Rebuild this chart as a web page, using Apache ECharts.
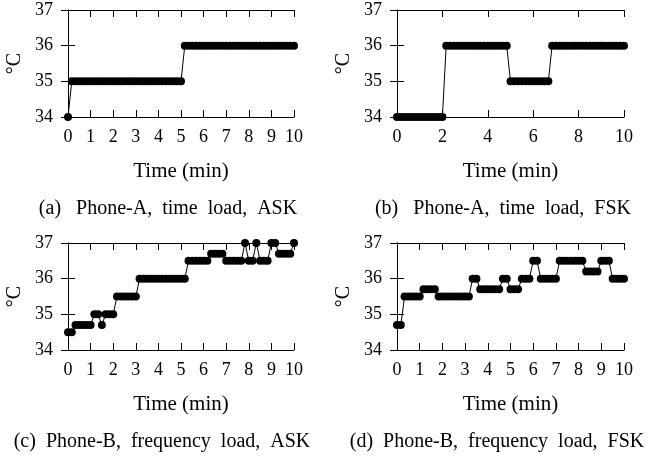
<!DOCTYPE html>
<html>
<head>
<meta charset="utf-8">
<script src="https://cdn.jsdelivr.net/npm/echarts@6/dist/echarts.min.js"></script>
<style>
html,body{margin:0;padding:0;background:#fff;}
#chart{width:662px;height:461px;}
</style>
</head>
<body>
<div id="chart"></div>
<script>
// one sample every 10 s, x axis in minutes
var sampleMin = 10 / 60;

// (a) Phone-A, time load, ASK
var tempA = [34,
  35,35,35,35,35,35,35,35,35,35,35,35,35,35,35,35,35,35,35,35,35,35,35,35,35,35,35,35,35,35,
  36,36,36,36,36,36,36,36,36,36,36,36,36,36,36,36,36,36,36,36,36,36,36,36,36,36,36,36,36,36];
// (b) Phone-A, time load, FSK
var tempB = [34,34,34,34,34,34,34,34,34,34,34,34,34,
  36,36,36,36,36,36,36,36,36,36,36,36,36,36,36,36,36,
  35,35,35,35,35,35,35,35,35,35,35,
  36,36,36,36,36,36,36,36,36,36,36,36,36,36,36,36,36,36,36,36];
// (c) Phone-B, frequency load, ASK
var tempC = [34.5,34.5,34.7,34.7,34.7,34.7,34.7,35,35,34.7,35,35,35,
  35.5,35.5,35.5,35.5,35.5,35.5,
  36,36,36,36,36,36,36,36,36,36,36,36,36,
  36.5,36.5,36.5,36.5,36.5,36.5,36.7,36.7,36.7,36.7,
  36.5,36.5,36.5,36.5,36.5,37,36.5,36.5,37,36.5,36.5,36.5,37,37,
  36.7,36.7,36.7,36.7,37];
// (d) Phone-B, frequency load, FSK
var tempD = [34.7,34.7,35.5,35.5,35.5,35.5,35.5,35.7,35.7,35.7,35.7,
  35.5,35.5,35.5,35.5,35.5,35.5,35.5,35.5,35.5,36,36,
  35.7,35.7,35.7,35.7,35.7,35.7,36,36,35.7,35.7,35.7,36,36,36,36.5,36.5,
  36,36,36,36,36,36.5,36.5,36.5,36.5,36.5,36.5,36.5,
  36.2,36.2,36.2,36.2,36.5,36.5,36.5,36,36,36,36];

var captions = ['(a)   Phone-A,  time  load,  ASK', '(b)   Phone-A,  time  load,  FSK',
  '(c)  Phone-B,  frequency  load,  ASK', '(d)  Phone-B,  frequency  load,  FSK'];
var xSteps = [1, 2, 1, 1];
var yMin = 34, yMax = 37, yStep = 1;
var tMax = 10;

var font = 'Liberation Serif';
var panels = [
  {left: 68, top: 10, width: 226, height: 107, cap: [168, 209]},
  {left: 397, top: 10, width: 227, height: 107, cap: [503, 209]},
  {left: 68, top: 243, width: 226, height: 107, cap: [162, 442]},
  {left: 397, top: 243, width: 227, height: 107, cap: [497, 442]}
];
var temps = [tempA, tempB, tempC, tempD];

var grid = [], xAxis = [], yAxis = [], series = [], graphic = [];
var line = {show: true, lineStyle: {color: '#000', width: 1}};
var tick = {show: true, inside: true, length: 7, lineStyle: {color: '#000', width: 1}};

panels.forEach(function (p, k) {
  grid.push({left: p.left, top: p.top, width: p.width, height: p.height, show: false});
  // bottom axis with labels
  xAxis.push({
    type: 'value', gridIndex: k, position: 'bottom', min: 0, max: tMax, interval: xSteps[k],
    axisLine: line, axisTick: tick, splitLine: {show: false},
    axisLabel: {color: '#000', fontFamily: font, fontSize: 18, margin: 11},
    name: 'Time (min)', nameLocation: 'middle', nameGap: 44,
    nameTextStyle: {color: '#000', fontFamily: font, fontSize: 21}
  });
  // mirrored top axis
  xAxis.push({
    type: 'value', gridIndex: k, position: 'top', min: 0, max: tMax, interval: xSteps[k],
    axisLine: line, axisTick: tick, axisLabel: {show: false}, splitLine: {show: false}
  });
  yAxis.push({
    type: 'value', gridIndex: k, position: 'left', min: yMin, max: yMax, interval: yStep,
    axisLine: line, axisTick: tick, splitLine: {show: false},
    axisLabel: {color: '#000', fontFamily: font, fontSize: 18, margin: 15},
    name: '°C', nameLocation: 'middle', nameGap: 43,
    nameTextStyle: {color: '#000', fontFamily: font, fontSize: 20}
  });
  yAxis.push({
    type: 'value', gridIndex: k, position: 'right', min: yMin, max: yMax, interval: yStep,
    axisLine: line, axisTick: tick, axisLabel: {show: false}, splitLine: {show: false}
  });
  var pts = temps[k].map(function (v, i) { return [i * sampleMin, v]; });
  series.push({
    type: 'line', xAxisIndex: 2 * k, yAxisIndex: 2 * k, data: pts,
    symbol: 'circle', symbolSize: 8, showSymbol: true, clip: false,
    itemStyle: {color: '#000'}, lineStyle: {color: '#000', width: 1}
  });
  graphic.push({
    type: 'text', x: p.cap[0], y: p.cap[1],
    style: {text: captions[k], fill: '#000', font: '20px "Liberation Serif"',
      textAlign: 'center', textVerticalAlign: 'middle'}
  });
});

var chart = echarts.init(document.getElementById('chart'));
chart.setOption({
  animation: false,
  backgroundColor: '#fff',
  textStyle: {fontFamily: font},
  grid: grid,
  xAxis: xAxis,
  yAxis: yAxis,
  series: series,
  graphic: graphic
});
</script>
</body>
</html>
